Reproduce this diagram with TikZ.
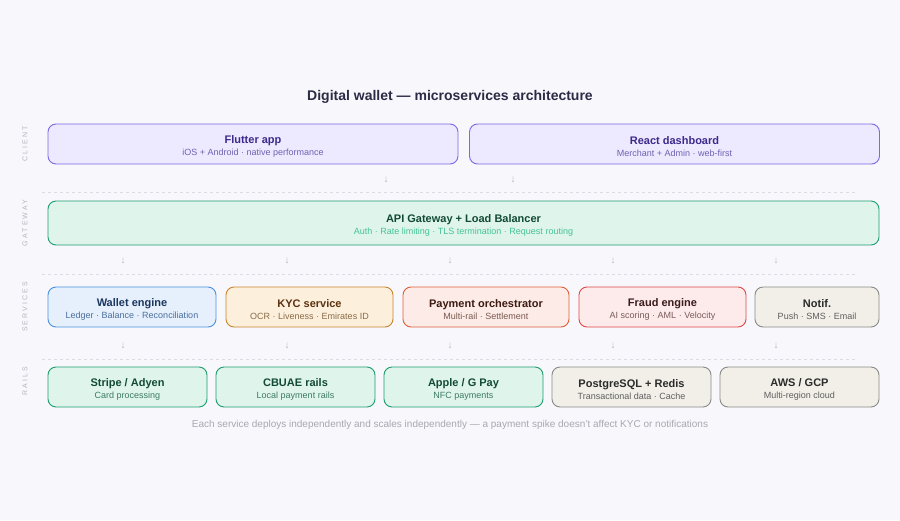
\documentclass[tikz,border=0pt]{standalone}
\usepackage{fontspec}
\setmainfont{Liberation Sans}
\newfontfamily\espace[LetterSpace=30]{Liberation Sans}
\usetikzlibrary{positioning}

% Couleurs
\definecolor{fond}{HTML}{F8F7FC}
\definecolor{encre}{HTML}{2B2B45}
\definecolor{violetfond}{HTML}{EDE9FE}
\definecolor{violettrait}{HTML}{7B69E6}
\definecolor{violettitre}{HTML}{3C2A8C}
\definecolor{violetsous}{HTML}{6E62B5}
\definecolor{vertfond}{HTML}{DFF5EC}
\definecolor{verttrait}{HTML}{1E9C70}
\definecolor{verttitre}{HTML}{124A36}
\definecolor{vertsous}{HTML}{45C293}
\definecolor{vertsousb}{HTML}{3D7A62}
\definecolor{bleufond}{HTML}{E6F0FC}
\definecolor{bleutrait}{HTML}{4A90E2}
\definecolor{bleutitre}{HTML}{1B365F}
\definecolor{bleusous}{HTML}{4A6E9E}
\definecolor{orfond}{HTML}{FCEFDC}
\definecolor{ortrait}{HTML}{C8862E}
\definecolor{ortitre}{HTML}{5A3311}
\definecolor{orsous}{HTML}{8A6B48}
\definecolor{corfond}{HTML}{FCEBE6}
\definecolor{cortrait}{HTML}{DF5F3A}
\definecolor{cortitre}{HTML}{3B1B12}
\definecolor{corsous}{HTML}{7A5A52}
\definecolor{rougefond}{HTML}{FDEBEB}
\definecolor{rougetrait}{HTML}{E04848}
\definecolor{rougetitre}{HTML}{3B1B1B}
\definecolor{rougesous}{HTML}{7A5A5A}
\definecolor{grisfond}{HTML}{F2EFE8}
\definecolor{gristrait}{HTML}{8A8985}
\definecolor{gristitre}{HTML}{2B2B2B}
\definecolor{grissous}{HTML}{5E5E5E}
\definecolor{etiquette}{HTML}{B5B5BD}
\definecolor{tirets}{HTML}{DCDCE4}
\definecolor{note}{HTML}{A8A8B0}

\newcommand{\deuxlignes}[4]{{\fontsize{11}{13}\selectfont\rule{0pt}{13pt}\bfseries\color{#1}#3}\\[-0.5pt]{\fontsize{9}{10}\selectfont\color{#2}#4}}

\tikzset{
  boite/.style={rectangle, rounded corners=8pt, line width=0.9pt, inner sep=0pt, align=center, minimum height=40pt},
  violet/.style={boite, fill=violetfond, draw=violettrait},
  vert/.style={boite, fill=vertfond, draw=verttrait},
  bleu/.style={boite, fill=bleufond, draw=bleutrait},
  orange/.style={boite, fill=orfond, draw=ortrait},
  corail/.style={boite, fill=corfond, draw=cortrait},
  rouge/.style={boite, fill=rougefond, draw=rougetrait},
  gris/.style={boite, fill=grisfond, draw=gristrait},
  cote/.style={rotate=90, text=etiquette, font=\espace\fontsize{7}{8}\selectfont, inner sep=0pt},
  fleche/.style={text=etiquette, font=\fontsize{10}{11}\selectfont, inner sep=0pt},
  separation/.style={draw=tirets, line width=0.6pt, dash pattern=on 3pt off 3pt}
}

\begin{document}
\begin{tikzpicture}[x=1pt, y=-1pt]
        \useasboundingbox[fill=fond] (0,0) rectangle (900,520);

        % Titre
        \node[text=encre, font=\bfseries\fontsize{14}{16}\selectfont] (titre) at (450,97) {Digital wallet — microservices architecture};

        % Etiquettes des couches
        \node[cote] (lclient) at (25,144) {CLIENT};
        \node[cote] (lgateway) at (25,223) {GATEWAY};
        \node[cote] (lservices) at (25,307) {SERVICES};
        \node[cote] (lrails) at (25,381) {RAILS};

        % Client
        \node[violet, minimum width=410pt] (flutter) at (253,144) {\deuxlignes{violettitre}{violetsous}{Flutter app}{iOS + Android · native performance}};
        \node[violet, minimum width=410pt] (react) at (674.5,144) {\deuxlignes{violettitre}{violetsous}{React dashboard}{Merchant + Admin · web-first}};

        \node[fleche] (f1) at (386,180) {↓};
        \node[fleche] (f2) at (513,180) {↓};
        \draw[separation] (42,192) -- (858,192);

        % Gateway
        \node[vert, minimum width=831pt, minimum height=44pt] (gateway) at (463.5,223) {\deuxlignes{verttitre}{vertsous}{API Gateway + Load Balancer}{Auth · Rate limiting · TLS termination · Request routing}};

        \foreach \x [count=\i] in {123,287,450,613,776}
          \node[fleche] (g\i) at (\x,261) {↓};
        \draw[separation] (42,274) -- (858,274);

        % Services
        \node[bleu, minimum width=168pt] (wallet) at (132,307) {\deuxlignes{bleutitre}{bleusous}{Wallet engine}{Ledger · Balance · Reconciliation}};
        \node[orange, minimum width=167pt] (kyc) at (309.5,307) {\deuxlignes{ortitre}{orsous}{KYC service}{OCR · Liveness · Emirates ID}};
        \node[corail, minimum width=166pt] (payment) at (486,307) {\deuxlignes{cortitre}{corsous}{Payment orchestrator}{Multi-rail · Settlement}};
        \node[rouge, minimum width=167pt] (fraud) at (662.5,307) {\deuxlignes{rougetitre}{rougesous}{Fraud engine}{AI scoring · AML · Velocity}};
        \node[gris, minimum width=124pt] (notif) at (817,307) {\deuxlignes{gristitre}{grissous}{Notif.}{Push · SMS · Email}};

        \foreach \x [count=\i] in {123,287,450,613,776}
          \node[fleche] (s\i) at (\x,346) {↓};
        \draw[separation] (42,359) -- (858,359);

        % Rails
        \node[vert, minimum width=159pt] (stripe) at (127.5,387) {\deuxlignes{verttitre}{vertsousb}{Stripe / Adyen}{Card processing}};
        \node[vert, minimum width=159pt] (cbuae) at (295.5,387) {\deuxlignes{verttitre}{vertsousb}{CBUAE rails}{Local payment rails}};
        \node[vert, minimum width=159pt] (apple) at (463.5,387) {\deuxlignes{verttitre}{vertsousb}{Apple / G Pay}{NFC payments}};
        \node[gris, minimum width=159pt] (postgres) at (631.5,387) {\deuxlignes{gristitre}{grissous}{PostgreSQL + Redis}{Transactional data · Cache}};
        \node[gris, minimum width=159pt] (cloud) at (799.5,387) {\deuxlignes{gristitre}{grissous}{AWS / GCP}{Multi-region cloud}};

        % Note
        \node[text=note, font=\fontsize{10}{12}\selectfont] (remarque) at (450,425) {Each service deploys independently and scales independently — a payment spike doesn't affect KYC or notifications};
\end{tikzpicture}
\end{document}
